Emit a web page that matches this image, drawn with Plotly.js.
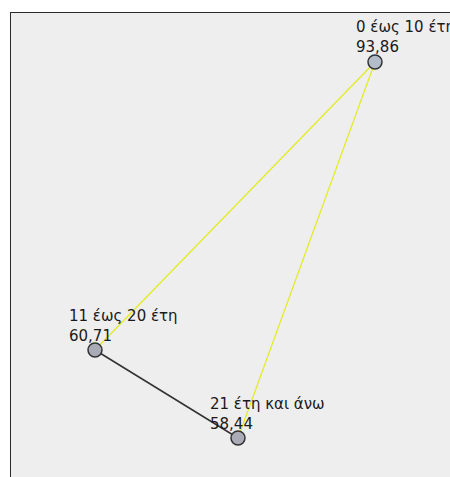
<!DOCTYPE html>
<html>
<head>
<meta charset="utf-8">
<script src="https://cdn.plot.ly/plotly-3.0.1.min.js"></script>
<style>html,body{margin:0;padding:0;background:#fff;}#chart{width:450px;height:477px;}</style>
</head>
<body>
<div id="chart"></div>
<script>
// Data
const categories = ["0 έως 10 έτη", "11 έως 20 έτη", "21 έτη και άνω"];
const values = ["93,86", "60,71", "58,44"];
const nodeX = [364, 84, 227];
const nodeY = [49, 337, 425];
const edgeFrom = [0, 0, 1];
const edgeTo = [1, 2, 2];
const edgeKind = ["yellow", "yellow", "black"];

// Styles
const edgeStyle = {
  yellow: {color: "#e3ec1e", width: 1.2},
  black: {color: "#333333", width: 1.5}
};
const labelOffset = [
  {dx: -20, dy: 25},
  {dx: -27, dy: 24},
  {dx: -29, dy: 24}
];

const traces = [];
for (let i = 0; i < edgeFrom.length; i++) {
  const a = edgeFrom[i], b = edgeTo[i];
  traces.push({
    type: "scatter", mode: "lines",
    x: [nodeX[a], nodeX[b]], y: [nodeY[a], nodeY[b]],
    line: edgeStyle[edgeKind[i]], hoverinfo: "skip", cliponaxis: false
  });
}
traces.push({
  type: "scatter", mode: "markers",
  x: nodeX, y: nodeY,
  marker: {size: 14, color: ["#b3bdca", "#a9abb7", "#a9abb7"], line: {color: "#333333", width: 1.5}},
  cliponaxis: false, hoverinfo: "skip"
});

const annotations = [];
const font = {family: "DejaVu Sans", size: 15, color: "#1a1a1a"};
for (let i = 0; i < categories.length; i++) {
  const o = labelOffset[i];
  annotations.push({x: nodeX[i], y: nodeY[i], xref: "x", yref: "y",
    text: categories[i] + "<br>" + values[i], align: "left",
    showarrow: false, xanchor: "left", yanchor: "middle", xshift: o.dx, yshift: o.dy,
    borderpad: 0, font: font});
}

const layout = {
  width: 450, height: 477,
  margin: {l: 11, t: 13, r: 0, b: 0, pad: 0},
  paper_bgcolor: "#ffffff",
  plot_bgcolor: "#eeeeee",
  showlegend: false,
  xaxis: {range: [0, 439], side: "top", showline: true, linecolor: "#2a2a2a", linewidth: 1.5,
          showgrid: false, zeroline: false, showticklabels: false, ticks: "", fixedrange: true},
  yaxis: {range: [464, 0], showline: true, linecolor: "#2a2a2a", linewidth: 1.5,
          showgrid: false, zeroline: false, showticklabels: false, ticks: "", fixedrange: true},
  annotations: annotations
};

Plotly.newPlot("chart", traces, layout, {displayModeBar: false, staticPlot: true});
</script>
</body>
</html>
